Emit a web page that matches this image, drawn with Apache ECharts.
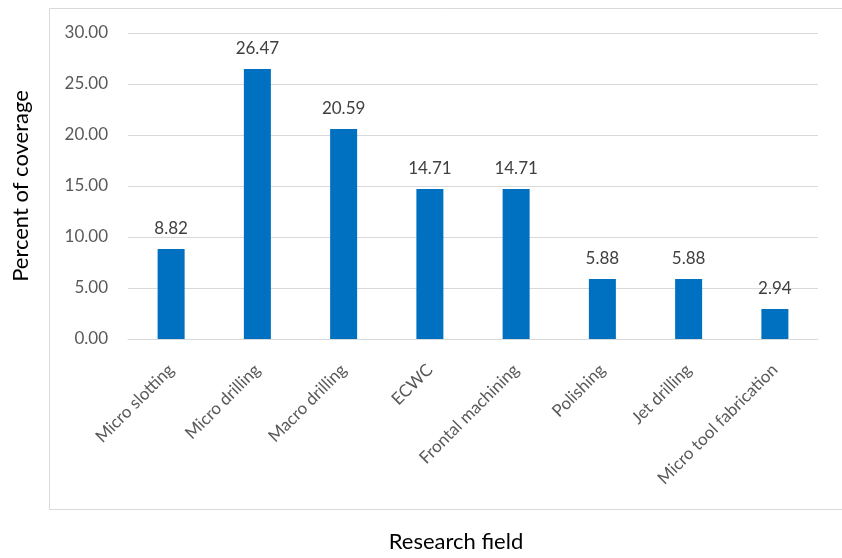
<!DOCTYPE html>
<html>
<head>
<meta charset="utf-8">
<script src="https://cdn.jsdelivr.net/npm/echarts@6/dist/echarts.min.js"></script>
<style>
  html, body { margin: 0; padding: 0; background: #fff; }
  #chart { width: 842px; height: 558px; }
</style>
</head>
<body>
<div id="chart"></div>
<script>
// Research fields and their share of coverage (%)
const categories = ['Micro slotting', 'Micro drilling', 'Macro drilling', 'ECWC',
  'Frontal machining', 'Polishing', 'Jet drilling', 'Micro tool fabrication'];
const coverage = [8.82, 26.47, 20.59, 14.71, 14.71, 5.88, 5.88, 2.94];

const FONT = 'Lato, "Open Sans", sans-serif';

const chart = echarts.init(document.getElementById('chart'), null, { renderer: 'canvas' });
chart.setOption({
  animation: false,
  backgroundColor: '#ffffff',
  grid: { left: 128, right: 24, top: 33, bottom: 216, containLabel: false },
  graphic: [{
    type: 'rect',
    shape: { x: 49.5, y: 8.5, width: 850, height: 501 },
    style: { fill: 'none', stroke: '#d9d9d9', lineWidth: 1 },
    silent: true,
    z: -1
  }],
  xAxis: {
    type: 'category',
    data: categories,
    name: 'Research field',
    nameLocation: 'middle',
    nameGap: 192,
    nameTextStyle: { fontFamily: FONT, fontSize: 22, color: '#000000', padding: [0, 34, 0, 0] },
    axisLine: { show: true, lineStyle: { color: '#d9d9d9', width: 1 } },
    axisTick: { show: false },
    axisLabel: {
      rotate: 45,
      interval: 0,
      margin: 28,
      fontFamily: FONT,
      fontSize: 17,
      color: '#595959'
    }
  },
  yAxis: {
    type: 'value',
    min: 0,
    max: 30,
    interval: 5,
    name: 'Percent of coverage',
    nameLocation: 'middle',
    nameGap: 96,
    nameTextStyle: { fontFamily: FONT, fontSize: 22, color: '#000000' },
    axisLine: { show: false },
    axisTick: { show: false },
    axisLabel: {
      margin: 20,
      fontFamily: FONT,
      fontSize: 17,
      color: '#595959',
      formatter: v => v.toFixed(2)
    },
    splitLine: { lineStyle: { color: '#d9d9d9', width: 1 } }
  },
  series: [{
    type: 'bar',
    data: coverage,
    barWidth: 27,
    itemStyle: { color: '#0070c0' },
    label: {
      show: true,
      position: 'top',
      distance: 12,
      fontFamily: FONT,
      fontSize: 17,
      color: '#404040',
      formatter: p => p.value.toFixed(2)
    }
  }]
});
</script>
</body>
</html>
